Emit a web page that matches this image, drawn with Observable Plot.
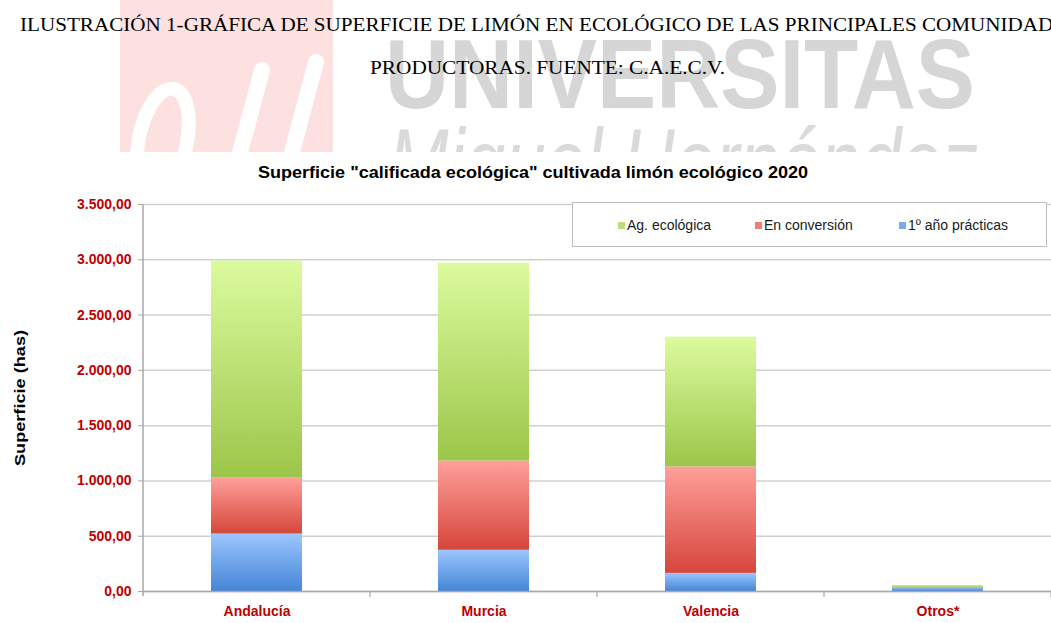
<!DOCTYPE html>
<html>
<head>
<meta charset="utf-8">
<script src="https://cdn.jsdelivr.net/npm/d3@7"></script>
<script src="https://cdn.jsdelivr.net/npm/@observablehq/plot@0.6"></script>
<style>
  html, body { margin: 0; padding: 0; background: #ffffff; }
  #page { position: relative; width: 1051px; height: 623px; overflow: hidden; background: #fff; }
  #overlay { position: absolute; left: 0; top: 0; }
  #chart { position: absolute; left: 0; top: 190px; }
  #legend { position: absolute; left: 572px; top: 202px; width: 475px; height: 45px;
            border: 1px solid #bdbdbd; background: #fff; box-sizing: border-box;
            font-family: 'Liberation Sans', Arial, sans-serif; font-size: 14px; color: #1a1a1a; }
  #legend .item { position: absolute; top: 14px; white-space: nowrap; }
  #legend .sw { display: inline-block; width: 7px; height: 7px; margin-right: 2px; vertical-align: 1px; }
</style>
</head>
<body>
<div id="page">
  <svg id="overlay" width="1051" height="623"></svg>
  <div id="chart"></div>
  <div id="legend"></div>
</div>
<script>
// ---- data ----
const categories = ["Andalucía", "Murcia", "Valencia", "Otros*"];
const series = ["1º año prácticas", "En conversión", "Ag. ecológica"];
const primerAno = [520, 373, 164, 35];
const enConversion = [505, 807, 963, 3];
const agEcologica = [1965, 1790, 1173, 17];
const yTicks = [0, 500, 1000, 1500, 2000, 2500, 3000, 3500];
const legendOrder = ["Ag. ecológica", "En conversión", "1º año prácticas"];

const seriesValues = [primerAno, enConversion, agEcologica];
const rows = series.flatMap((s, si) => categories.map((c, ci) => ({category: c, series: s, value: seriesValues[si][ci]})));

const locale = d3.formatLocale({decimal: ",", thousands: ".", grouping: [3], currency: ["", "€"]});
const fmt = locale.format(",.2f");

// ---- overlay: watermark, titles, y label ----
const ov = d3.select("#overlay");
const ns = "http://www.w3.org/2000/svg";
const defsO = ov.append("defs");
defsO.append("clipPath").attr("id", "wmclip").append("rect").attr("x", 0).attr("y", 0).attr("width", 1051).attr("height", 152);
const wm = ov.append("g").attr("clip-path", "url(#wmclip)");
wm.append("rect").attr("x", 120).attr("y", 0).attr("width", 213).attr("height", 152).attr("fill", "#fde1e1");
wm.append("ellipse").attr("cx", 163).attr("cy", 140).attr("rx", 24).attr("ry", 52).attr("fill", "none").attr("stroke", "#fff").attr("stroke-width", 14).attr("transform", "rotate(12,163,140)");
wm.append("line").attr("x1", 238).attr("y1", 160).attr("x2", 262).attr("y2", 70).attr("stroke", "#fff").attr("stroke-width", 16).attr("stroke-linecap", "round");
wm.append("line").attr("x1", 290).attr("y1", 160).attr("x2", 316).attr("y2", 62).attr("stroke", "#fff").attr("stroke-width", 16).attr("stroke-linecap", "round");
wm.append("text").attr("x", 385).attr("y", 108).attr("font-family", "'Liberation Sans', Arial, sans-serif")
  .attr("font-weight", "bold").attr("font-size", 98).attr("fill", "#d6d6d6")
  .attr("textLength", 590).attr("lengthAdjust", "spacingAndGlyphs").text("UNIVERSITAS");
wm.append("text").attr("x", 388).attr("y", 196).attr("font-family", "'Liberation Sans', Arial, sans-serif")
  .attr("font-style", "italic").attr("font-size", 96).attr("fill", "#dadada")
  .attr("textLength", 590).attr("lengthAdjust", "spacingAndGlyphs").text("Miguel Hernández");

ov.append("text").attr("x", 20).attr("y", 31).attr("font-family", "'Liberation Serif', 'Times New Roman', serif")
  .attr("font-size", 18).attr("fill", "#000").attr("textLength", 1058).attr("lengthAdjust", "spacingAndGlyphs")
  .text("ILUSTRACIÓN 1-GRÁFICA DE SUPERFICIE DE LIMÓN EN ECOLÓGICO DE LAS PRINCIPALES COMUNIDADES");
ov.append("text").attr("x", 370).attr("y", 74).attr("font-family", "'Liberation Serif', 'Times New Roman', serif")
  .attr("font-size", 18).attr("fill", "#000").attr("textLength", 355).attr("lengthAdjust", "spacingAndGlyphs")
  .text("PRODUCTORAS. FUENTE: C.A.E.C.V.");
ov.append("text").attr("x", 258).attr("y", 178).attr("font-family", "'Liberation Sans', Arial, sans-serif")
  .attr("font-size", 17).attr("font-weight", "bold").attr("fill", "#000").attr("textLength", 550).attr("lengthAdjust", "spacingAndGlyphs")
  .text("Superficie \"calificada ecológica\" cultivada limón ecológico 2020");
ov.append("text").attr("transform", "translate(25,398) rotate(-90)").attr("text-anchor", "middle")
  .attr("font-family", "'Liberation Sans', Arial, sans-serif").attr("font-size", 14).attr("font-weight", "bold")
  .attr("fill", "#000").attr("textLength", 136).attr("lengthAdjust", "spacingAndGlyphs").text("Superficie (has)");

// ---- chart ----
const plot = Plot.plot({
  width: 1051,
  height: 433,
  marginTop: 14,
  marginBottom: 32,
  marginLeft: 143,
  marginRight: 0,
  style: {fontFamily: "'Liberation Sans', Arial, sans-serif", background: "transparent", overflow: "visible"},
  x: {domain: categories, paddingInner: 0.6, paddingOuter: 0.3, axis: null},
  y: {domain: [0, 3500], axis: null},
  color: {domain: series, range: ["url(#gBlue)", "url(#gRed)", "url(#gGreen)"]},
  marks: [
    Plot.gridY(yTicks, {stroke: "#d0d0d0", strokeOpacity: 1, strokeWidth: 1.5}),
    Plot.barY(rows, {x: "category", y: "value", fill: "series"}),
    Plot.ruleY([0], {stroke: "#a8a8a8", strokeWidth: 1.5}),
    Plot.axisY(yTicks, {tickFormat: fmt, tickSize: 5, tickPadding: 7, stroke: "#a8a8a8", fill: "#c00000", fontWeight: "bold", fontSize: 14, label: null}),
    Plot.axisX({tickSize: 0, tickPadding: 15, fill: "#c00000", fontWeight: "bold", fontSize: 14, label: null})
  ]
});
const svg = d3.select(plot);
const defs = svg.insert("defs", ":first-child");
function grad(id, top, bottom) {
  const g = defs.append("linearGradient").attr("id", id).attr("x1", 0).attr("y1", 0).attr("x2", 0).attr("y2", 1);
  g.append("stop").attr("offset", "0%").attr("stop-color", top);
  g.append("stop").attr("offset", "100%").attr("stop-color", bottom);
}
grad("gGreen", "#dcfb9e", "#9cc649");
grad("gRed", "#ff9f9a", "#d6463b");
grad("gBlue", "#9cc6ff", "#4486d6");

// axis line and band-boundary ticks from the scales
const xs = plot.scale("x");
const ys = plot.scale("y");
const y0 = ys.apply(0), yTop = ys.apply(3500);
const step = xs.step;
const gap = (step - xs.bandwidth) / 2;
const left = xs.apply(categories[0]) - gap;
svg.append("line").attr("x1", left).attr("x2", left).attr("y1", yTop).attr("y2", y0 + 5)
  .attr("stroke", "#a8a8a8").attr("stroke-width", 1.5);
categories.forEach((c, i) => {
  const bx = xs.apply(c) + xs.bandwidth + gap;
  svg.append("line").attr("x1", bx).attr("x2", bx).attr("y1", y0).attr("y2", y0 + 6)
    .attr("stroke", "#a8a8a8").attr("stroke-width", 1.2);
});
document.getElementById("chart").appendChild(plot);

// ---- legend ----
const legendColors = {"Ag. ecológica": "#b9df7a", "En conversión": "#ef7d75", "1º año prácticas": "#79a9ec"};
const legendLeft = [45, 182, 326];
const lg = d3.select("#legend");
legendOrder.forEach((s, i) => {
  const it = lg.append("div").attr("class", "item").style("left", legendLeft[i] + "px");
  it.append("span").attr("class", "sw").style("background", legendColors[s]);
  it.append("span").text(s);
});
</script>
</body>
</html>
